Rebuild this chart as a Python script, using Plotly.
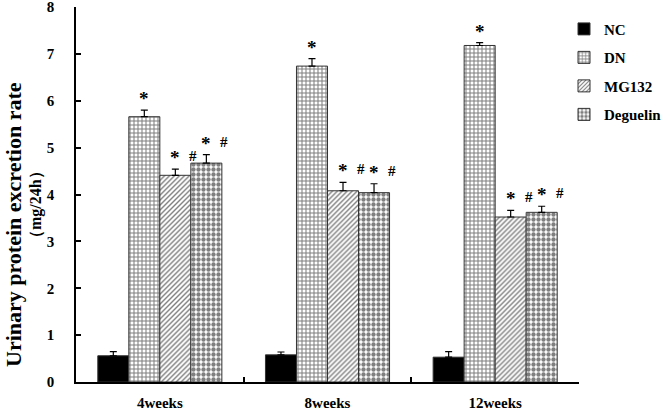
import plotly.graph_objects as go

categories = ["4weeks", "8weeks", "12weeks"]
series_names = ["NC", "DN", "MG132", "Deguelin"]
nc_vals = [0.56, 0.58, 0.53]
nc_err = [0.09, 0.06, 0.12]
dn_vals = [5.66, 6.74, 7.18]
dn_err = [0.14, 0.16, 0.06]
mg_vals = [4.41, 4.08, 3.52]
mg_err = [0.13, 0.18, 0.14]
deg_vals = [4.67, 4.04, 3.62]
deg_err = [0.18, 0.19, 0.13]
y_ticks = [0, 1, 2, 3, 4, 5, 6, 7, 8]

# significance marks per series (per category)
dn_marks = ["*", "*", "*"]
mg_marks = ["* #", "* #", "* #"]
deg_marks = ["* #", "* #", "* #"]

FONT = "Liberation Serif"
values = [nc_vals, dn_vals, mg_vals, deg_vals]
errors = [nc_err, dn_err, mg_err, deg_err]
patterns = [
    dict(shape=""),
    dict(shape="+", size=4, solidity=0.45, fgcolor="black", bgcolor="white"),
    dict(shape="/", size=3.5, solidity=0.4, fgcolor="black", bgcolor="white"),
    dict(shape=".", size=5, solidity=0.6, fgcolor="black", bgcolor="white"),
]
colors = ["black", "white", "white", "white"]

fig = go.Figure()
for i, name in enumerate(series_names):
    fig.add_trace(go.Bar(
        x=categories, y=values[i], name=name, legendgroup=name,
        marker=dict(color=colors[i], pattern=patterns[i],
                    line=dict(color="#333333", width=1)),
        error_y=dict(type="data", array=errors[i], arrayminus=[0, 0, 0],
                     symmetric=False, color="black", thickness=1.2, width=3.5),
    ))

W, H = 664, 410
ml, mr, mt, mb = 76, 85, 7, 28
pw = W - ml - mr
ph = H - mt - mb
cat_w = pw / len(categories)
bargap = 0.26
bar_w = cat_w * (1 - bargap) / len(series_names)

annotations = []
marks = [None, dn_marks, mg_marks, deg_marks]
for i in range(1, 4):
    for j, c in enumerate(categories):
        top = values[i][j] + errors[i][j]
        off = (i - 1.5) * bar_w
        parts = marks[i][j].split()
        annotations.append(dict(x=c, y=top, xref="x", yref="y", text="*",
                                showarrow=False, xshift=off, yanchor="bottom",
                                yshift=-1, font=dict(family=FONT, size=19, color="black", weight="bold")))
        if len(parts) > 1:
            annotations.append(dict(x=c, y=top, xref="x", yref="y", text="#",
                                    showarrow=False, xshift=off + 18, yanchor="bottom",
                                    yshift=3, font=dict(family=FONT, size=15, color="black", weight="bold")))

annotations.append(dict(x=(13 - ml) / pw, y=1 - (225 - mt) / ph, xref="paper", yref="paper",
                        xanchor="center", yanchor="middle",
                        text="Urinary protein excretion rate", textangle=-90, showarrow=False,
                        font=dict(family=FONT, size=22, color="black", weight="bold")))
annotations.append(dict(x=(36 - ml) / pw, y=1 - (205 - mt) / ph, xref="paper", yref="paper",
                        xanchor="center", yanchor="middle",
                        text="（mg/24h）", textangle=-90, showarrow=False,
                        font=dict(family=FONT, size=16, color="black", weight="bold")))

fig.update_layout(
    width=W, height=H,
    margin=dict(l=ml, r=mr, t=mt, b=mb, autoexpand=False),
    plot_bgcolor="white", paper_bgcolor="white",
    barmode="group", bargap=bargap, bargroupgap=0,
    showlegend=True,
    legend=dict(x=(564 - ml) / pw, y=0.985, xanchor="left", yanchor="top",
                font=dict(family=FONT, size=15, color="black", weight="bold"),
                traceorder="grouped", tracegroupgap=6, bgcolor="rgba(0,0,0,0)",
                itemwidth=30),
    annotations=annotations,
    xaxis=dict(showline=True, linecolor="black", linewidth=1.5, ticks="inside",
               tickson="boundaries", ticklen=5, tickcolor="black", tickwidth=1.5,
               showgrid=False, ticklabelstandoff=6, automargin=False,
               tickfont=dict(family=FONT, size=15, color="black", weight="bold")),
    yaxis=dict(range=[0, 8.001], tickvals=y_ticks, showline=True, linecolor="black",
               linewidth=1.5, ticks="inside", ticklen=5, tickcolor="black", tickwidth=1.5,
               showgrid=False, zeroline=False, ticklabelstandoff=17, automargin=False,
               ticklabeloverflow="allow",
               tickfont=dict(family=FONT, size=15, color="black", weight="bold")),
)

fig.write_html("out.html", config={"displayModeBar": False},
               post_script="document.body.style.margin='0';document.body.style.overflow='hidden';")
